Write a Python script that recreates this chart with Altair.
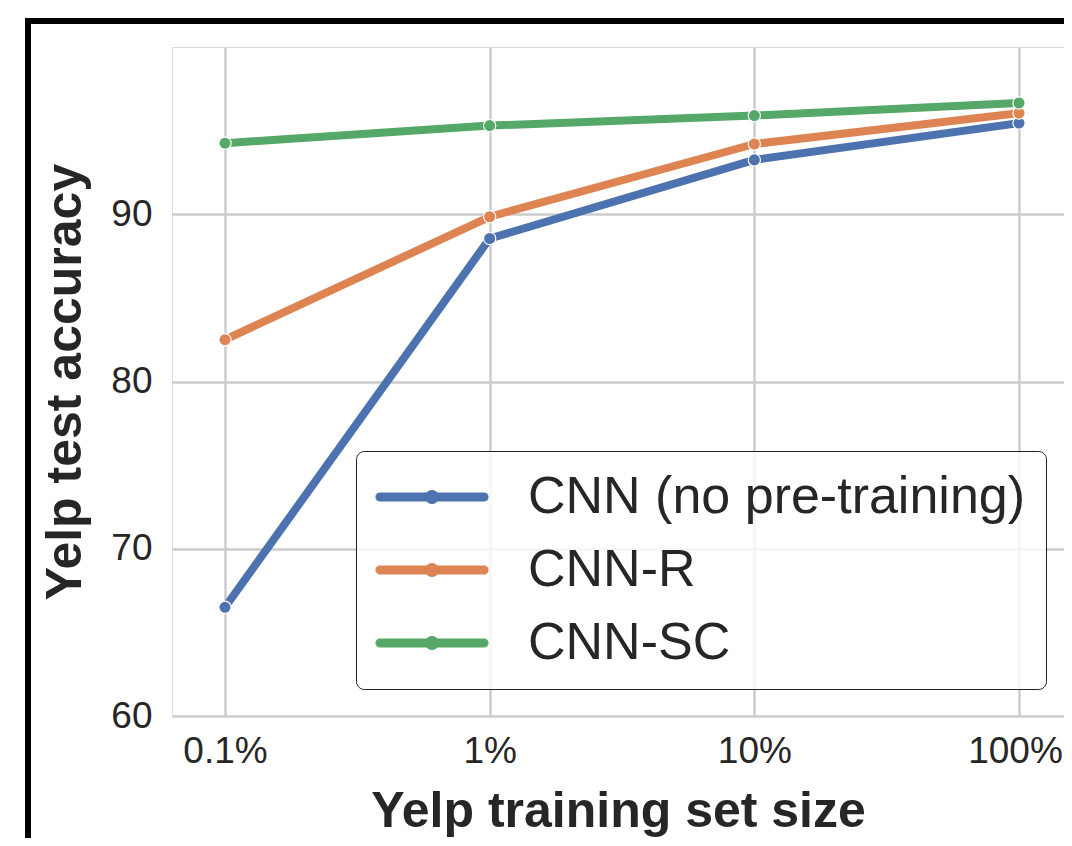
import altair as alt
import pandas as pd

sizes = [0.1, 1, 10, 100]
tick_labels = ["0.1%", "1%", "10%", "100%"]
series = ["CNN (no pre-training)", "CNN-R", "CNN-SC"]
cnn = [66.5, 88.55, 93.25, 95.45]
cnn_r = [82.5, 89.85, 94.2, 96.05]
cnn_sc = [94.25, 95.3, 95.9, 96.65]
colors = ["#4C72B0", "#DD8452", "#55A868"]

rows = []
for name, vals in zip(series, [cnn, cnn_r, cnn_sc]):
    for s, v in zip(sizes, vals):
        rows.append({"size": s, "acc": v, "model": name})
df = pd.DataFrame(rows)

label_expr = " : ".join(
    [f"datum.value == {s} ? '{l}'" for s, l in zip(sizes, tick_labels)] + ["''"]
)

FONT = "Liberation Sans"
TXT = "#262626"

x = alt.X(
    "size:Q",
    scale=alt.Scale(type="log", domain=[10 ** -1.2002, 10 ** 2.17], nice=False),
    axis=alt.Axis(
        values=sizes, labelExpr=label_expr, title="Yelp training set size",
        labelFontSize=37, titleFontSize=50, titleFontWeight="bold",
        labelPadding=17, titlePadding=17, ticks=False, domain=False,
        gridColor="#cccccc", gridWidth=2.5, labelColor=TXT, titleColor=TXT,
        labelFont=FONT, titleFont=FONT, labelFlush=False,
        labelOffset={"condition": {"test": "datum.value >= 100", "value": -4}, "value": 0},
    ),
)
y = alt.Y(
    "acc:Q",
    scale=alt.Scale(domain=[60, 100], nice=False),
    axis=alt.Axis(
        values=[60, 70, 80, 90], title="Yelp test accuracy",
        labelFontSize=37, titleFontSize=50, titleFontWeight="bold",
        labelPadding=20, titlePadding=20, ticks=False, domain=False,
        gridColor="#cccccc", gridWidth=2.5, labelColor=TXT, titleColor=TXT,
        labelFont=FONT, titleFont=FONT,
    ),
)

sym_path = (
    "M-2.6,-0.2L2.6,-0.2A0.2,0.2 0 0,1 2.6,0.2L-2.6,0.2A0.2,0.2 0 0,1 -2.6,-0.2Z"
    "M-0.32,0A0.32,0.32 0 1,1 0.32,0A0.32,0.32 0 1,1 -0.32,0Z"
)

legend = alt.Legend(
    orient="none", legendX=184, legendY=404, title=None,
    symbolType=sym_path, symbolSize=1600, symbolStrokeWidth=1.2,
    symbolStrokeColor="white", symbolOpacity=1,
    labelFontSize=52, labelFont=FONT, labelColor=TXT, labelLimit=1000,
    labelOffset=70, symbolOffset=30, rowPadding=21, padding=20,
    fillColor="rgba(255,255,255,0.8)", strokeColor="#222222",
    cornerRadius=8,
)

scale = alt.Scale(domain=series, range=colors)

base = alt.Chart(df)
lines = base.mark_line(strokeWidth=8, strokeJoin="round").encode(
    x=x, y=y, color=alt.Color("model:N", scale=scale, legend=legend)
)
points = base.mark_circle(size=150, opacity=1, stroke="white", strokeWidth=1.2).encode(
    x="size:Q", y="acc:Q", color=alt.Color("model:N", scale=scale, legend=legend)
)

frame = alt.Chart(pd.DataFrame({"f": [0]})).mark_rect(
    fill=None, stroke="black", strokeWidth=6
).encode(
    x=alt.value(-144), x2=alt.value(1100), y=alt.value(-26), y2=alt.value(900)
)

chart = alt.layer(lines, points, frame).properties(
    width=892, height=669,
    autosize=alt.AutoSizeParams(type="none"),
    padding={"left": 164, "top": 39, "right": 0, "bottom": 122},
).configure_view(stroke="#cccccc", strokeWidth=2.5).configure(background="white")

chart.save("out.html", embed_options={"renderer": "svg", "actions": False})
